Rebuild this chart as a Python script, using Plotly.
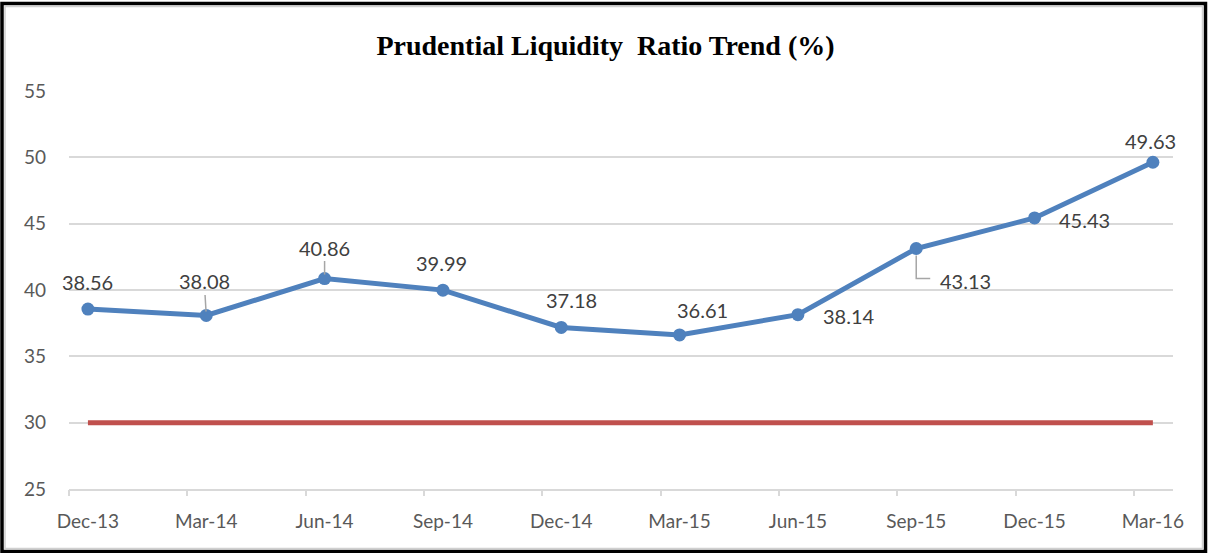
import plotly.graph_objects as go

categories = ["Dec-13", "Mar-14", "Jun-14", "Sep-14", "Dec-14",
              "Mar-15", "Jun-15", "Sep-15", "Dec-15", "Mar-16"]
liquidity_ratio = [38.56, 38.08, 40.86, 39.99, 37.18, 36.61, 38.14, 43.13, 45.43, 49.63]
minimum_requirement = [30, 30, 30, 30, 30, 30, 30, 30, 30, 30]
y_ticks = [25, 30, 35, 40, 45, 50, 55]

# label offsets in pixels (dx, dy) relative to each point, and leader-line flag
label_offsets = [(0, -27), (-2, -34), (0, -31), (-1, -27), (10, -27),
                 (23, -25), (51, 1), (49, 33), (50, 2), (-2, -21)]
leader = [False, True, True, False, False, False, False, False, False, False]

W, H = 1211, 553
L, R, T, B = 69, 38, 91, 64
pw, ph = W - L - R, H - T - B

def px_x(p):
    return (p - L) / pw

def px_y(p):
    return (H - B - p) / ph

blue = "#4F81BD"
red = "#C0504D"
grid = "#D9D9D9"
label_font = dict(family="Lato, Open Sans, sans-serif", size=20, color="#404040")
tick_font = dict(family="Lato, Open Sans, sans-serif", size=19, color="#595959")

fig = go.Figure()
fig.add_trace(go.Scatter(x=categories, y=minimum_requirement, mode="lines",
                         line=dict(color=red, width=5), hoverinfo="skip",
                         showlegend=False))
fig.add_trace(go.Scatter(x=categories, y=liquidity_ratio, mode="lines+markers",
                         line=dict(color=blue, width=5),
                         marker=dict(color=blue, size=13),
                         showlegend=False))
# empty trace so the tick-mark overlay axis gets drawn
fig.add_trace(go.Scatter(x=[], y=[], xaxis="x2", yaxis="y", showlegend=False,
                         hoverinfo="skip"))

for c, v, (dx, dy), ld in zip(categories, liquidity_ratio, label_offsets, leader):
    txt = f"{v:.2f}"
    if ld:
        fig.add_annotation(x=c, y=v, xref="x", yref="y", text=txt, font=label_font,
                           showarrow=True, arrowhead=0, arrowwidth=1.5,
                           arrowcolor="#A6A6A6", ax=dx, ay=dy, standoff=4)
    else:
        fig.add_annotation(x=c, y=v, xref="x", yref="y", text=txt, font=label_font,
                           showarrow=False, xshift=dx, yshift=-dy)

# L-shaped leader line for the Sep-15 label
fig.add_shape(type="path", xref="x", yref="y", xsizemode="pixel", ysizemode="pixel",
              xanchor=categories[7], yanchor=liquidity_ratio[7],
              path="M0,-7 L0,-30 L14,-30", line=dict(color="#A6A6A6", width=1.5))

# outer frame
fig.add_shape(type="rect", xref="paper", yref="paper",
              x0=px_x(2), x1=px_x(1205.5), y0=px_y(551.5), y1=px_y(3.5),
              line=dict(color="black", width=3.5), layer="below")
fig.add_shape(type="rect", xref="paper", yref="paper",
              x0=px_x(5), x1=px_x(1202.5), y0=px_y(548.5), y1=px_y(6.5),
              line=dict(color="#D0D0D0", width=1.5), layer="below")

fig.update_layout(
    width=W, height=H,
    margin=dict(l=L, r=R, t=T, b=B, pad=0),
    paper_bgcolor="white", plot_bgcolor="white",
    title=dict(text="<b>Prudential Liquidity  Ratio Trend (%)</b>",
               font=dict(family="Liberation Serif, Times New Roman, serif", size=28, color="black"),
               x=0.5, xref="container", xanchor="center",
               y=1 - 45 / H, yref="container", yanchor="middle"),
    xaxis=dict(type="category", range=[-0.16, 9.17], showgrid=False,
               showline=True, linecolor=grid, linewidth=1.5,
               ticks="", tickfont=tick_font, ticklabelstandoff=14,
               zeroline=False, fixedrange=True),
    xaxis2=dict(overlaying="x", type="linear", range=[-0.16, 9.17],
                tick0=-0.16, dtick=1, ticks="outside", ticklen=6, tickwidth=1.5,
                tickcolor=grid, showticklabels=False, showgrid=False,
                showline=False, zeroline=False, side="bottom", anchor="y",
                fixedrange=True),
    yaxis=dict(range=[25, 55], tickvals=y_ticks, showgrid=True, gridcolor=grid,
               gridwidth=1.5, showline=False, zeroline=False, ticks="",
               tickfont=tick_font, ticklabelstandoff=22, fixedrange=True),
    font=dict(family="Lato, Open Sans, sans-serif"),
)

fig.write_html("out.html", config={"displayModeBar": False},
               post_script="document.body.style.margin='0px';document.body.style.overflow='hidden';")
